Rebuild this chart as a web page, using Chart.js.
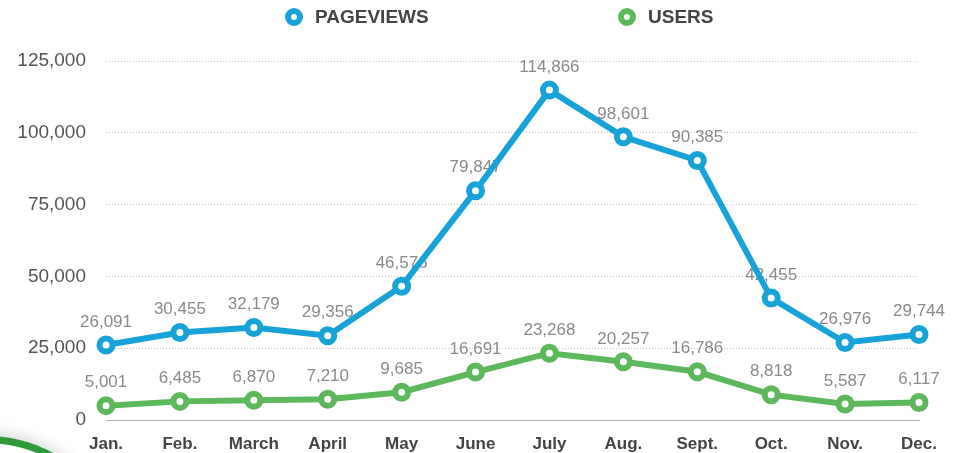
<!DOCTYPE html>
<html>
<head>
<meta charset="utf-8">
<script src="https://cdn.jsdelivr.net/npm/chart.js@4/dist/chart.umd.min.js"></script>
<style>
  body { margin: 0; background: #fff; }
  #wrap { position: relative; width: 960px; height: 453px; overflow: hidden; }
  #chart { position: absolute; left: 0; top: 0; }
  .legend { position: absolute; top: 6px; font: bold 19px "Liberation Sans", Arial, sans-serif; color: #444; display: flex; align-items: center; }
  .legend i { display: inline-block; width: 6px; height: 6px; border-radius: 50%; border: 6px solid; background: #fff; margin-right: 12px; }
  .arc { position: absolute; left: -150px; top: 436px; width: 260px; height: 260px; border-radius: 50%; border: 7px solid #2f9a3a; box-shadow: 0 -6px 12px rgba(0,0,0,0.12); }
</style>
</head>
<body>
<div id="wrap">
  <canvas id="chart" width="960" height="453"></canvas>
  <div class="legend" style="left:285px"><i style="border-color:#18a3d8"></i>PAGEVIEWS</div>
  <div class="legend" style="left:618px"><i style="border-color:#5cb85a"></i>USERS</div>
  <div class="arc"></div>
</div>
<script>
// Monthly traffic
const months = ['Jan.', 'Feb.', 'March', 'April', 'May', 'June', 'July', 'Aug.', 'Sept.', 'Oct.', 'Nov.', 'Dec.'];
const pageviews = [26091, 30455, 32179, 29356, 46576, 79847, 114866, 98601, 90385, 42455, 26976, 29744];
const users = [5001, 6485, 6870, 7210, 9685, 16691, 23268, 20257, 16786, 8818, 5587, 6117];
const yTicks = [0, 25000, 50000, 75000, 100000, 125000];

const blue = '#18a3d8';
const green = '#5cb85a';
const fontFamily = '"Liberation Sans", Arial, sans-serif';

// value labels above each point, drawn under the lines
const pointLabels = {
    id: 'pointLabels',
    beforeDatasetsDraw(chart) {
        const ctx = chart.ctx;
        ctx.save();
        ctx.font = '17px ' + fontFamily;
        ctx.fillStyle = '#8a8a8a';
        ctx.textAlign = 'center';
        ctx.textBaseline = 'middle';
        chart.data.datasets.forEach((ds, i) => {
            chart.getDatasetMeta(i).data.forEach((pt, j) => {
                ctx.fillText(ds.data[j].toLocaleString('en-US'), pt.x, pt.y - 23);
            });
        });
        ctx.restore();
    }
};

function lineSet(label, data, color) {
    return {
        label: label,
        data: data,
        borderColor: color,
        borderWidth: 6,
        pointRadius: 6.5,
        pointBorderWidth: 6,
        pointBackgroundColor: '#fff',
        pointBorderColor: color,
        tension: 0
    };
}

new Chart(document.getElementById('chart'), {
    type: 'line',
    data: {
        labels: months,
        datasets: [
            lineSet('PAGEVIEWS', pageviews, blue),
            lineSet('USERS', users, green)
        ]
    },
    options: {
        responsive: false,
        animation: false,
        layout: { padding: { top: 61, right: 41, left: 0, bottom: 0 } },
        plugins: {
            legend: { display: false },
            tooltip: { enabled: false }
        },
        scales: {
            x: {
                offset: false,
                grid: { display: false },
                border: { display: true, color: '#b0b0b0', width: 1 },
                ticks: {
                    color: '#444',
                    padding: 6,
                    maxRotation: 0,
                    font: { family: fontFamily, size: 17, weight: 'bold' }
                },
                afterFit(scale) { scale.height = 33; }
            },
            y: {
                min: 0,
                max: 125000,
                afterBuildTicks(scale) { scale.ticks = yTicks.map(v => ({ value: v })); },
                grid: {
                    color: '#c4c4c4',
                    lineWidth: 1,
                    drawTicks: false
                },
                border: { display: false, dash: [1, 2] },
                ticks: {
                    color: '#555',
                    padding: 20,
                    font: { family: fontFamily, size: 19 },
                    callback: v => v.toLocaleString('en-US')
                },
                afterFit(scale) { scale.width = 106; }
            }
        }
    },
    plugins: [pointLabels]
});
</script>
</body>
</html>
